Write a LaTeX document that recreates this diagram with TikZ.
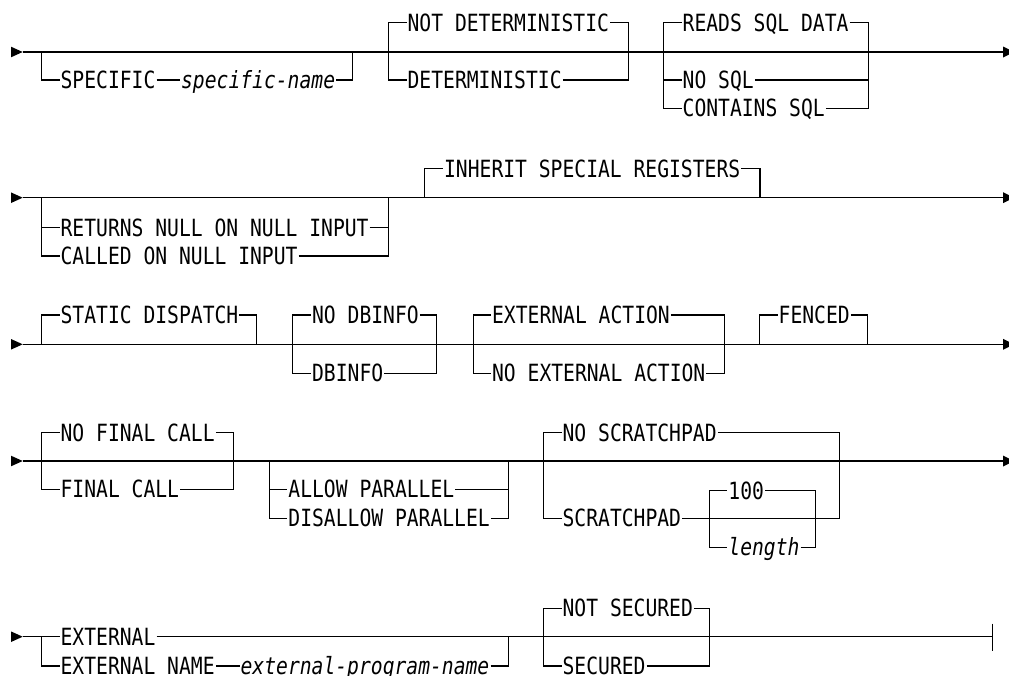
\documentclass[tikz,border=0pt]{standalone}
\usepackage{fontspec}
\newfontfamily\rr[FakeStretch=0.83]{DejaVu Sans Mono}
\newcommand\railstart[1]{\fill (#1) ++(-11.7,-5.3) -- (#1) -- ++(-11.7,5.3) -- cycle;}
\newcommand\railfinish[1]{\fill (#1) ++(0,-5.5) -- ++(11,5.5) -- ++(-11,5.5) -- cycle;}
\begin{document}
\begin{tikzpicture}[x=1pt,y=-1pt,line width=1.3pt,
  kw/.style={anchor=west,inner xsep=0.5pt,inner ysep=0pt,text height=17.3pt,text depth=0pt,
    font=\rr\fontsize{23.7}{28}\selectfont},
  var/.style={kw,font=\rr\fontsize{23.7}{28}\selectfont\itshape}]
\useasboundingbox (0,0) rectangle (1009,675);

% ---------------- Row 1
\coordinate (r1s) at (22.7,52); \coordinate (r1e) at (1003,52);
\railstart{r1s}
\draw (r1s) -- (r1e);
\railfinish{r1e}
% A
\coordinate (a1) at (41.7,52); \coordinate (a2) at (352.7,52);
\node[kw] (spec) at (59.5,80) {SPECIFIC};
\node[var] (specn) at (180,80) {specific-name};
\draw (a1) |- (spec.west); \draw (spec.east) -- (specn.west); \draw (specn.east) -| (a2);
% B
\coordinate (b1) at (388.3,52); \coordinate (b2) at (628.3,52);
\node[kw] (notdet) at (406.5,22.7) {NOT DETERMINISTIC};
\node[kw] (det) at (406.5,80) {DETERMINISTIC};
\draw (b1) |- (notdet.west); \draw (notdet.east) -| (b2);
\draw (b1) |- (det.west); \draw (det.east) -| (b2);
% C
\coordinate (c1) at (663.3,52); \coordinate (c2) at (868.3,52);
\node[kw] (reads) at (681.5,22.7) {READS SQL DATA};
\node[kw] (nosql) at (681.5,80) {NO SQL};
\node[kw] (contains) at (681.5,108.3) {CONTAINS SQL};
\draw (c1) |- (reads.west); \draw (reads.east) -| (c2);
\draw (c1) |- (nosql.west); \draw (nosql.east) -| (c2);
\draw (c1) |- (contains.west); \draw (contains.east) -| (c2);

% ---------------- Row 2
\coordinate (r2s) at (22.7,197.7); \coordinate (r2e) at (1003,197.7);
\railstart{r2s}
\draw (r2s) -- (r2e);
\railfinish{r2e}
% D
\coordinate (d1) at (41.7,197.7); \coordinate (d2) at (388.3,197.7);
\node[kw] (returns) at (59.5,227.7) {RETURNS NULL ON NULL INPUT};
\node[kw] (called) at (59.5,256) {CALLED ON NULL INPUT};
\draw (d1) |- (returns.west); \draw (returns.east) -| (d2);
\draw (d1) |- (called.west); \draw (called.east) -| (d2);
% E
\coordinate (e1) at (424.3,197.7); \coordinate (e2) at (760,197.7);
\node[kw] (inherit) at (443,168.5) {INHERIT SPECIAL REGISTERS};
\draw (e1) |- (inherit.west); \draw (inherit.east) -| (e2);

% ---------------- Row 3
\coordinate (r3s) at (22.7,344.3); \coordinate (r3e) at (1003,344.3);
\railstart{r3s}
\draw (r3s) -- (r3e);
\railfinish{r3e}
% F
\coordinate (f1) at (41.7,344.3); \coordinate (f2) at (256.7,344.3);
\node[kw] (static) at (59.5,315) {STATIC DISPATCH};
\draw (f1) |- (static.west); \draw (static.east) -| (f2);
% G
\coordinate (g1) at (292.7,344.3); \coordinate (g2) at (436.7,344.3);
\node[kw] (nodbinfo) at (311,315) {NO DBINFO};
\node[kw] (dbinfo) at (311,373.3) {DBINFO};
\draw (g1) |- (nodbinfo.west); \draw (nodbinfo.east) -| (g2);
\draw (g1) |- (dbinfo.west); \draw (dbinfo.east) -| (g2);
% H
\coordinate (h1) at (473.3,344.3); \coordinate (h2) at (724.3,344.3);
\node[kw] (extact) at (491,315) {EXTERNAL ACTION};
\node[kw] (noextact) at (491,373.3) {NO EXTERNAL ACTION};
\draw (h1) |- (extact.west); \draw (extact.east) -| (h2);
\draw (h1) |- (noextact.west); \draw (noextact.east) -| (h2);
% I
\coordinate (i1) at (759.3,344.3); \coordinate (i2) at (867.7,344.3);
\node[kw] (fenced) at (777.5,315) {FENCED};
\draw (i1) |- (fenced.west); \draw (fenced.east) -| (i2);

% ---------------- Row 4
\coordinate (r4s) at (22.7,461); \coordinate (r4e) at (1003,461);
\railstart{r4s}
\draw (r4s) -- (r4e);
\railfinish{r4e}
% J
\coordinate (j1) at (41.7,461); \coordinate (j2) at (233.3,461);
\node[kw] (nofinal) at (59.5,432.7) {NO FINAL CALL};
\node[kw] (final) at (59.5,489.3) {FINAL CALL};
\draw (j1) |- (nofinal.west); \draw (nofinal.east) -| (j2);
\draw (j1) |- (final.west); \draw (final.east) -| (j2);
% K
\coordinate (k1) at (269.3,461); \coordinate (k2) at (508.5,461);
\node[kw] (allow) at (287.3,489.3) {ALLOW PARALLEL};
\node[kw] (disallow) at (287.3,518.3) {DISALLOW PARALLEL};
\draw (k1) |- (allow.west); \draw (allow.east) -| (k2);
\draw (k1) |- (disallow.west); \draw (disallow.east) -| (k2);
% L
\coordinate (l1) at (543.3,461); \coordinate (l2) at (839.3,461);
\node[kw] (noscr) at (561.5,432.7) {NO SCRATCHPAD};
\node[kw] (scr) at (561.5,518.3) {SCRATCHPAD};
\draw (l1) |- (noscr.west); \draw (noscr.east) -| (l2);
\draw (l1) |- (scr.west);
% M
\coordinate (m1) at (709.3,518.3); \coordinate (m2) at (815.7,518.3);
\node[kw] (hundred) at (727.3,490.7) {100};
\node[var] (length) at (727.3,547.3) {length};
\draw (scr.east) -- (m1) -- (m2) -| (l2);
\draw (m1) |- (hundred.west); \draw (hundred.east) -| (m2);
\draw (m1) |- (length.west); \draw (length.east) -| (m2);

% ---------------- Row 5
\coordinate (r5s) at (22.7,636.7); \coordinate (r5e) at (992.3,636.7);
\railstart{r5s}
% N
\coordinate (n1) at (41.7,636.7); \coordinate (n2) at (508.3,636.7);
\node[kw] (ext) at (59.5,636.7) {EXTERNAL};
\node[kw] (extname) at (59.5,666) {EXTERNAL NAME};
\node[var] (extprog) at (239.5,666) {external-program-name};
\draw (r5s) -- (n1) -- (ext.west);
\draw (ext.east) -- (r5e);
\draw (n1) |- (extname.west); \draw (extname.east) -- (extprog.west); \draw (extprog.east) -| (n2);
% O
\coordinate (o1) at (543.3,636.7); \coordinate (o2) at (709.3,636.7);
\node[kw] (notsec) at (561.5,608.3) {NOT SECURED};
\node[kw] (sec) at (561.5,666) {SECURED};
\draw (o1) |- (notsec.west); \draw (notsec.east) -| (o2);
\draw (o1) |- (sec.west); \draw (sec.east) -| (o2);
% end bar
\draw (r5e) ++(0,-13) -- ++(0,27);
\end{tikzpicture}
\end{document}
